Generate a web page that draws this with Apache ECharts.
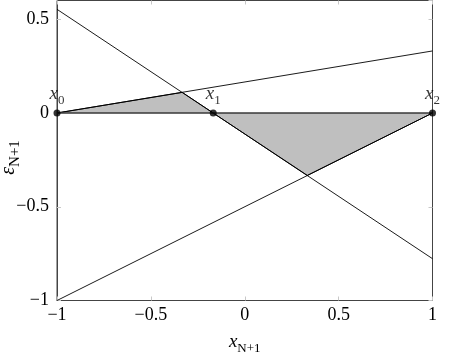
<!DOCTYPE html>
<html><head><meta charset="utf-8">
<script src="https://cdn.jsdelivr.net/npm/echarts@6/dist/echarts.min.js"></script>
<style>html,body{margin:0;padding:0;background:#fff}#c{width:451px;height:359px}</style>
</head><body><div id="c"></div>
<script>
const xTicks = [-1, -0.5, 0, 0.5, 1];
const yTicks = [-1, -0.5, 0, 0.5];
const lineA = [[-1, 0.553], [1, -0.777]];
const lineB = [[-1, 0], [1, 0.331]];
const lineC = [[-1, -1], [1, 0]];
const baseLine = [[-1, 0], [1, 0]];
const pointsXY = [[-1, 0], [-0.168, 0], [1, 0]];
const pointNames = ['0', '1', '2'];
const triangle1 = [[-1, 0], [-0.333, 0.11], [-0.168, 0]];
const triangle2 = [[-0.168, 0], [1, 0], [0.333, -0.333]];
const triangles = [triangle1, triangle2];

const FONT = 'Liberation Serif';
const rich = {
  i: {fontFamily: FONT, fontStyle: 'italic', fontSize: 19, color: '#000', lineHeight: 19, padding: [0,0,4,0], verticalAlign: 'bottom'},
  s: {fontFamily: FONT, fontSize: 13, color: '#000', lineHeight: 13, verticalAlign: 'bottom'}
};
const richY = {
  i: {fontFamily: FONT, fontStyle: 'italic', fontSize: 20, color: '#000', lineHeight: 20, padding: [0,0,4,0], verticalAlign: 'bottom'},
  s: {fontFamily: FONT, fontSize: 15, color: '#000', lineHeight: 15, verticalAlign: 'bottom'}
};
const fmtTick = v => (v < 0 ? '\u2212' + Math.abs(v) : String(v));

const chart = echarts.init(document.getElementById('c'), null, {renderer: 'canvas'});
const tickStyle = {show: true, inside: true, length: 4, lineStyle: {color: '#c8c8c8', width: 1}};
chart.setOption({
  animation: false,
  grid: {left: 57, right: 18.5, top: 0.5, bottom: 58.5, containLabel: false, outerBoundsMode: 'none',
    show: true, borderColor: '#444', borderWidth: 1},
  xAxis: [{
    type: 'value', min: -1, max: 1, interval: 0.5,
    axisLine: {show: true, onZero: false, lineStyle: {color: '#444', width: 1}},
    axisTick: tickStyle, splitLine: {show: false},
    axisLabel: {fontFamily: FONT, fontSize: 18, color: '#000', margin: 6, formatter: fmtTick},
    name: '{i|x}{s|N+1}', nameLocation: 'middle', nameGap: 36, nameMoveOverlap: false,
    nameTextStyle: {rich: rich}
  }, {
    type: 'value', min: -1, max: 1, interval: 0.5, position: 'top',
    axisLine: {show: false, onZero: false}, axisTick: tickStyle, axisLabel: {show: false}, splitLine: {show: false}
  }],
  yAxis: [{
    type: 'value', min: -1, max: 0.6, interval: 0.5,
    axisLine: {show: true, onZero: false, lineStyle: {color: '#444', width: 1}},
    axisTick: tickStyle, splitLine: {show: false},
    axisLabel: {fontFamily: FONT, fontSize: 18, color: '#000', margin: 8, formatter: fmtTick, showMaxLabel: false},
    name: '{i|\u03b5}{s|N+1}', nameLocation: 'middle', nameGap: 34, nameRotate: 90, nameMoveOverlap: false,
    nameTextStyle: {rich: richY, padding: [0, 14, 0, 0]}
  }, {
    type: 'value', min: -1, max: 0.6, interval: 0.5, position: 'right',
    axisLine: {show: false, onZero: false}, axisTick: tickStyle, axisLabel: {show: false}, splitLine: {show: false}
  }],
  series: [
    {
      type: 'custom', z: 1,
      data: triangles.map((t, i) => [t[0][0], t[0][1], i]),
      renderItem: function (params, api) {
        const tri = triangles[params.dataIndex];
        return {
          type: 'polygon',
          shape: {points: tri.map(p => api.coord(p))},
          style: {fill: '#bfbfbf', stroke: '#000', lineWidth: 1}
        };
      }
    },
    {type: 'line', data: lineA, symbol: 'none', z: 2, lineStyle: {color: '#000', width: 0.9}},
    {type: 'line', data: lineB, symbol: 'none', z: 2, lineStyle: {color: '#000', width: 0.9}},
    {type: 'line', data: lineC, symbol: 'none', z: 2, lineStyle: {color: '#000', width: 0.9}},
    {type: 'line', data: baseLine, symbol: 'none', z: 3, lineStyle: {color: '#555', width: 1}},
    {
      type: 'scatter', z: 4, symbolSize: 7, itemStyle: {color: '#000'},
      data: pointsXY.map((p, i) => ({value: p, name: pointNames[i]})),
      label: {show: true, position: 'top', distance: 2,
        formatter: p => '{i|x}{s|' + p.name + '}', rich: rich}
    }
  ]
});
</script></body></html>
